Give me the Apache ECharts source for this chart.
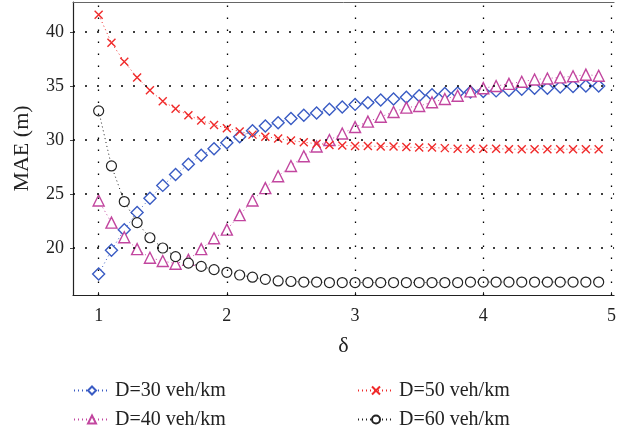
<!DOCTYPE html>
<html><head><meta charset="utf-8">
<script src="https://cdn.jsdelivr.net/npm/echarts@6/dist/echarts.min.js"></script>
<style>html,body{margin:0;padding:0;background:#fff}#c{width:619px;height:434px}</style>
</head><body><div id="c"></div>
<script>
const deltas = [1.0,1.1,1.2,1.3,1.4,1.5,1.6,1.7,1.8,1.9,2.0,2.1,2.2,2.3,2.4,2.5,2.6,2.7,2.8,2.9,3.0,3.1,3.2,3.3,3.4,3.5,3.6,3.7,3.8,3.9,4.0,4.1,4.2,4.3,4.4,4.5,4.6,4.7,4.8,4.9];
const d30 = [17.6,19.8,21.7,23.3,24.6,25.8,26.8,27.75,28.6,29.2,29.75,30.3,30.85,31.3,31.6,32.0,32.3,32.5,32.85,33.05,33.3,33.45,33.7,33.8,33.95,34.1,34.2,34.3,34.35,34.45,34.5,34.55,34.6,34.7,34.8,34.8,34.9,34.95,35.0,35.0];
const d40 = [24.4,22.35,21.0,19.9,19.1,18.8,18.55,18.9,19.9,20.9,21.7,23.05,24.4,25.55,26.65,27.6,28.5,29.4,30.0,30.6,31.2,31.7,32.15,32.6,33.0,33.15,33.5,33.8,34.1,34.5,34.8,35.0,35.2,35.4,35.6,35.7,35.8,35.9,36.05,35.95];
const d50 = [41.6,39.0,37.25,35.8,34.6,33.6,32.9,32.3,31.8,31.4,31.1,30.8,30.5,30.3,30.15,29.95,29.8,29.65,29.55,29.5,29.45,29.45,29.4,29.4,29.35,29.3,29.3,29.25,29.2,29.2,29.2,29.2,29.15,29.15,29.15,29.15,29.15,29.15,29.15,29.15];
const d60 = [32.7,27.6,24.3,22.35,20.95,20.0,19.2,18.6,18.3,18.0,17.75,17.5,17.3,17.1,16.95,16.9,16.85,16.85,16.8,16.8,16.8,16.8,16.8,16.8,16.8,16.8,16.8,16.8,16.8,16.85,16.85,16.85,16.85,16.85,16.85,16.85,16.85,16.85,16.85,16.85];
const names = ['D=30 veh/km','D=40 veh/km','D=50 veh/km','D=60 veh/km'];
const xTicks = [1,2,3,4,5];
const yTicks = [20,25,30,35,40];
const xMin = 0.8, xMax = 5.02, yMin = 15.65, yMax = 42.78;

const font = '"Liberation Serif", "DejaVu Serif", serif';
const pairs = ys => deltas.map((x,i)=>[x, ys[i]]);
const dotted = [1,3];
const vGridStyle = {type:[1.5,10.5], color:'#000', width:1.3, opacity:1};
const hGridStyle = {type:[2,10], color:'#000', width:1.6, opacity:1};
function mk(name, ys, color, symbol, size, fill, bw){
  return {
    name, type:'line', data: pairs(ys), symbol, symbolSize:size,
    lineStyle:{color, width:1, type:dotted},
    itemStyle:{color:fill, borderColor:color, borderWidth:bw},
    emphasis:{disabled:true}, animation:false
  };
}
const s30 = mk(names[0], d30, '#3a5cc4', 'diamond', 12, '#fff', 1.4);
s30.markLine = {
  silent:true, symbol:['none','none'], animation:false, precision:3,
  label:{show:false}, lineStyle:vGridStyle, emphasis:{disabled:true},
  data: xTicks.map(v=>({xAxis:v}))
};
const s60 = mk(names[3], d60, '#222', 'circle', 10, '#fff', 1.2);
s60.markLine = {
  silent:true, symbol:['none','none'], animation:false, precision:3,
  label:{show:false}, lineStyle:hGridStyle, emphasis:{disabled:true},
  data: yTicks.map(v=>({yAxis:v}))
};
const chart = echarts.init(document.getElementById('c'), null, {renderer:'canvas'});
chart.setOption({
  animation:false,
  grid:{left:73, right:2, top:2, bottom:139},
  xAxis:[{
    type:'value', min:xMin, max:xMax,
    name:'δ', nameLocation:'middle', nameGap:40,
    nameTextStyle:{fontFamily:font, fontSize:22, color:'#222'},
    axisLine:{show:true, onZero:false, lineStyle:{color:'#222', width:1.2}},
    axisTick:{show:true, inside:true, length:3, customValues:xTicks, lineStyle:{color:'#444'}},
    axisLabel:{customValues:xTicks, fontFamily:font, fontSize:18, color:'#222', margin:12},
    splitLine:{show:false}
  },{
    type:'value', position:'top', min:xMin, max:xMax,
    axisLine:{show:true, onZero:false, lineStyle:{color:'#666', width:1}},
    axisTick:{show:false}, axisLabel:{show:false}, splitLine:{show:false}
  }],
  yAxis:{
    type:'value', min:yMin, max:yMax,
    name:'MAE (m)', nameLocation:'middle', nameGap:40,
    nameTextStyle:{fontFamily:font, fontSize:22, color:'#222'},
    axisLine:{show:true, onZero:false, lineStyle:{color:'#222', width:1.2}},
    axisTick:{show:true, length:3, customValues:yTicks, lineStyle:{color:'#444'}},
    axisLabel:{customValues:yTicks, fontFamily:font, fontSize:18, color:'#222', margin:9},
    splitLine:{show:false}
  },
  legend:[{
    left:73, top:379, orient:'vertical', itemGap:6, itemWidth:36, itemHeight:10, padding:0,
    data:[names[0], names[1]],
    textStyle:{fontFamily:font, fontSize:20, lineHeight:23, color:'#222'}
  },{
    left:357, top:379, orient:'vertical', itemGap:6, itemWidth:36, itemHeight:10, padding:0,
    data:[names[2], names[3]],
    textStyle:{fontFamily:font, fontSize:20, lineHeight:23, color:'#222'}
  }],
  series:[
    s30,
    mk(names[1], d40, '#c2469f', 'triangle', 11, '#fff', 1.4),
    mk(names[2], d50, '#f02a2a', 'path://M0,0L10,10M0,10L10,0', 8, '#f02a2a', 1.4),
    s60
  ]
});
</script></body></html>
